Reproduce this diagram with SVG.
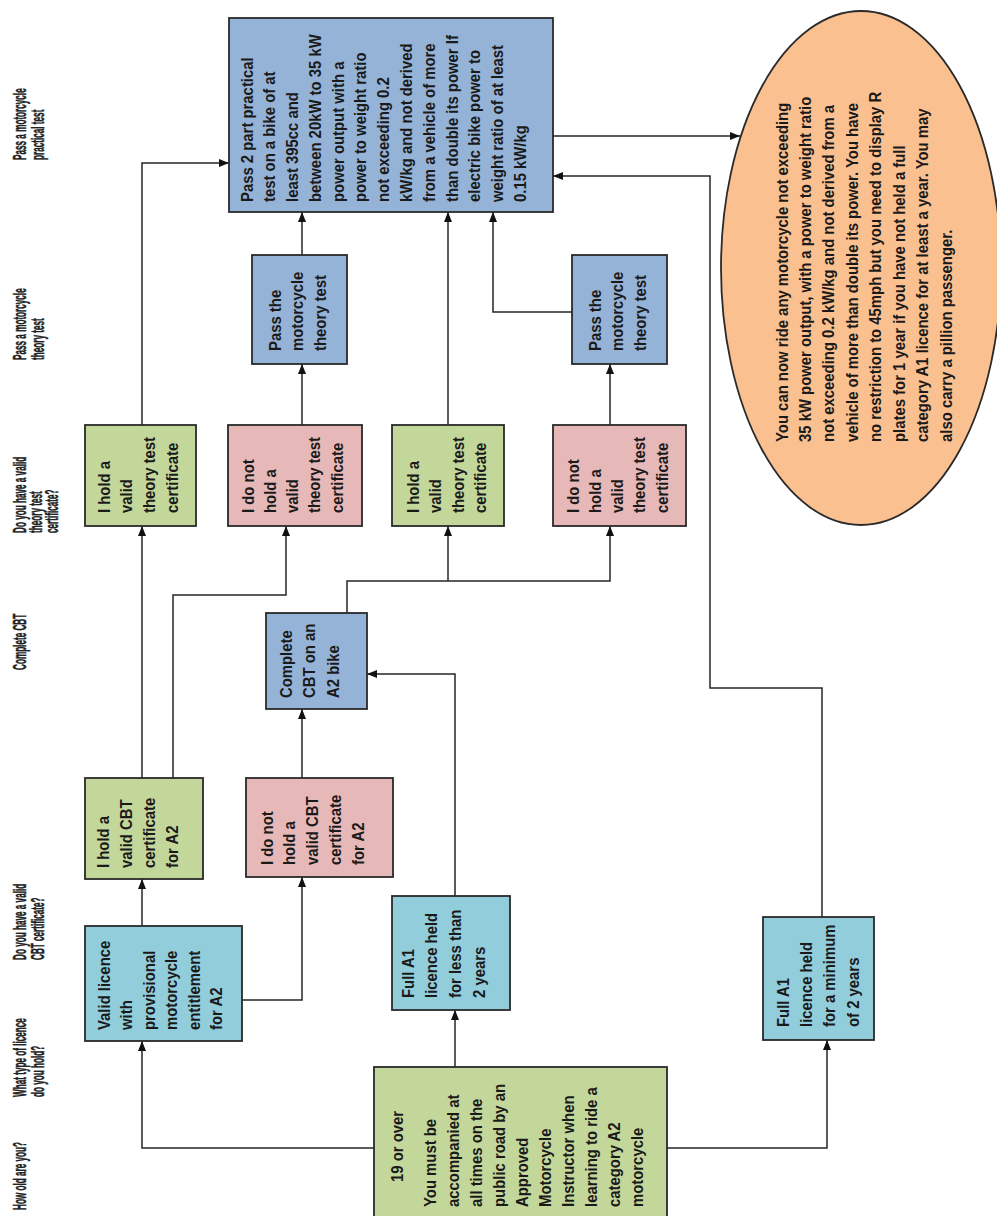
<svg xmlns="http://www.w3.org/2000/svg" width="997" height="1216" viewBox="0 0 997 1216">
  <style>
    .box { stroke: #2a2a2a; stroke-width: 1.8; }
    .green { fill: #C4D79B; }
    .pink { fill: #E6B8B7; }
    .cyan { fill: #92CDDC; }
    .blue { fill: #95B3D7; }
    .oval { fill: #FAC090; stroke: #2a2a2a; stroke-width: 1.8; }
    .t { font-family: "Liberation Sans", Arial, sans-serif; font-weight: bold; font-size: 16px; fill: #1a1a1a; }
    .hd { font-family: "Liberation Sans", Arial, sans-serif; font-weight: bold; font-size: 19px; fill: #222; stroke: #222; stroke-width: 0.5; }
    .wire { fill: none; stroke: #262626; stroke-width: 1.5; }
    .arr { marker-end: url(#head); }
  </style>
  <defs>
    <marker id="head" viewBox="0 0 10 8" refX="10" refY="4" markerWidth="10" markerHeight="8" markerUnits="userSpaceOnUse" orient="auto">
      <path d="M0,0 L10,4 L0,8 z" fill="#111"/>
    </marker>
  </defs>
  <rect width="997" height="1216" fill="#fff"/>

  <!-- column headings, written bottom-to-top -->
  <g id="headings">
    <text class="hd" transform="translate(26,1210) rotate(-90) scale(0.43,1)"><tspan x="0" y="0">How old are you?</tspan></text>
    <text class="hd" transform="translate(26,1097) rotate(-90) scale(0.43,1)"><tspan x="0" y="0">What type of licence</tspan><tspan x="0" y="18">do you hold?</tspan></text>
    <text class="hd" transform="translate(26,960) rotate(-90) scale(0.43,1)"><tspan x="0" y="0">Do you have a valid</tspan><tspan x="0" y="18">CBT certificate?</tspan></text>
    <text class="hd" transform="translate(26,670) rotate(-90) scale(0.43,1)"><tspan x="0" y="0">Complete CBT</tspan></text>
    <text class="hd" transform="translate(26,533) rotate(-90) scale(0.43,1)"><tspan x="0" y="0">Do you have a valid</tspan><tspan x="0" y="16">theory test</tspan><tspan x="0" y="32">certificate?</tspan></text>
    <text class="hd" transform="translate(26,360) rotate(-90) scale(0.43,1)"><tspan x="0" y="0">Pass a motorcycle</tspan><tspan x="0" y="18">theory test</tspan></text>
    <text class="hd" transform="translate(26,160) rotate(-90) scale(0.43,1)"><tspan x="0" y="0">Pass a motorcycle</tspan><tspan x="0" y="18">practical test</tspan></text>
  </g>

  <!-- connectors -->
  <g id="connectors">
    <path class="wire arr" d="M374,1148 H142 V1041"/>
    <path class="wire arr" d="M455,1067 V1010"/>
    <path class="wire arr" d="M667,1148 H827 V1040"/>
    <path class="wire arr" d="M142,926 V879"/>
    <path class="wire arr" d="M242,1000 H302 V877"/>
    <path class="wire arr" d="M142,778 V526"/>
    <path class="wire arr" d="M173,778 V595 H286 V526"/>
    <path class="wire arr" d="M302,778 V709"/>
    <path class="wire arr" d="M455,896 V674 H367"/>
    <path class="wire arr" d="M347,613 V581 H610 V526"/>
    <path class="wire arr" d="M448,581 V526"/>
    <path class="wire arr" d="M142,425 V163 H229"/>
    <path class="wire arr" d="M302,425 V364"/>
    <path class="wire arr" d="M302,255 V212"/>
    <path class="wire arr" d="M448,425 V212"/>
    <path class="wire arr" d="M610,425 V364"/>
    <path class="wire arr" d="M572,312 H493 V212"/>
    <path class="wire arr" d="M822,917 V688 H710 V176 H553"/>
    <path class="wire arr" d="M553,136 H740"/>
  </g>

  <!-- age -->
  <g id="age">
    <rect class="box green" x="374" y="1067" width="293" height="160"/>
    <text class="t" transform="translate(402.5,1207) rotate(-90) scale(0.93,1)">
      <tspan x="26.9" y="0">19 or over</tspan>
      <tspan x="0" y="34">You must be</tspan>
      <tspan x="0" y="56.9">accompanied at</tspan>
      <tspan x="0" y="79.8">all times on the</tspan>
      <tspan x="0" y="102.7">public road by an</tspan>
      <tspan x="0" y="125.6">Approved</tspan>
      <tspan x="0" y="148.5">Motorcycle</tspan>
      <tspan x="0" y="171.4">Instructor when</tspan>
      <tspan x="0" y="194.3">learning to ride a</tspan>
      <tspan x="0" y="217.2">category A2</tspan>
      <tspan x="0" y="240.1">motorcycle</tspan>
    </text>
  </g>

  <!-- licence types -->
  <g id="provisional">
    <rect class="box cyan" x="85" y="926" width="157" height="115"/>
    <text class="t" transform="translate(110,1030) rotate(-90) scale(0.93,1)">
      <tspan x="0" y="0">Valid licence</tspan>
      <tspan x="0" y="22.5">with</tspan>
      <tspan x="0" y="45">provisional</tspan>
      <tspan x="0" y="67.5">motorcycle</tspan>
      <tspan x="0" y="90">entitlement</tspan>
      <tspan x="0" y="112.5">for A2</tspan>
    </text>
  </g>
  <g id="a1-short">
    <rect class="box cyan" x="392" y="896" width="118" height="114"/>
    <text class="t" transform="translate(413.5,998) rotate(-90) scale(0.93,1)">
      <tspan x="0" y="0">Full A1</tspan>
      <tspan x="0" y="24">licence held</tspan>
      <tspan x="0" y="48">for less than</tspan>
      <tspan x="0" y="72">2 years</tspan>
    </text>
  </g>
  <g id="a1-long">
    <rect class="box cyan" x="763" y="917" width="111" height="123"/>
    <text class="t" transform="translate(788.5,1027) rotate(-90) scale(0.93,1)">
      <tspan x="0" y="0">Full A1</tspan>
      <tspan x="0" y="23.5">licence held</tspan>
      <tspan x="0" y="47">for a minimum</tspan>
      <tspan x="0" y="70.5">of 2 years</tspan>
    </text>
  </g>

  <!-- CBT certificate -->
  <g id="cbt-yes">
    <rect class="box green" x="85" y="778" width="118" height="101"/>
    <text class="t" transform="translate(109,868) rotate(-90) scale(0.93,1)">
      <tspan x="0" y="0">I hold a</tspan>
      <tspan x="0" y="23">valid CBT</tspan>
      <tspan x="0" y="46">certificate</tspan>
      <tspan x="0" y="69">for A2</tspan>
    </text>
  </g>
  <g id="cbt-no">
    <rect class="box pink" x="246" y="778" width="147" height="99"/>
    <text class="t" transform="translate(272.5,865) rotate(-90) scale(0.93,1)">
      <tspan x="0" y="0">I do not</tspan>
      <tspan x="0" y="23">hold a</tspan>
      <tspan x="0" y="46">valid CBT</tspan>
      <tspan x="0" y="69">certificate</tspan>
      <tspan x="0" y="92">for A2</tspan>
    </text>
  </g>

  <!-- complete CBT -->
  <g id="complete-cbt">
    <rect class="box blue" x="266" y="613" width="101" height="96"/>
    <text class="t" transform="translate(292,698) rotate(-90) scale(0.93,1)">
      <tspan x="0" y="0">Complete</tspan>
      <tspan x="0" y="23.3">CBT on an</tspan>
      <tspan x="0" y="46.6">A2 bike</tspan>
    </text>
  </g>

  <!-- theory test certificate -->
  <g id="theory-yes-1">
    <rect class="box green" x="85" y="425" width="111" height="101"/>
    <text class="t" transform="translate(109.5,513) rotate(-90) scale(0.93,1)">
      <tspan x="0" y="0">I hold a</tspan>
      <tspan x="0" y="23">valid</tspan>
      <tspan x="0" y="46">theory test</tspan>
      <tspan x="0" y="69">certificate</tspan>
    </text>
  </g>
  <g id="theory-no-1">
    <rect class="box pink" x="228" y="425" width="134" height="101"/>
    <text class="t" transform="translate(253.5,513) rotate(-90) scale(0.93,1)">
      <tspan x="0" y="0">I do not</tspan>
      <tspan x="0" y="22.3">hold a</tspan>
      <tspan x="0" y="44.6">valid</tspan>
      <tspan x="0" y="66.9">theory test</tspan>
      <tspan x="0" y="89.2">certificate</tspan>
    </text>
  </g>
  <g id="theory-yes-2">
    <rect class="box green" x="392" y="425" width="112" height="101"/>
    <text class="t" transform="translate(418.5,513) rotate(-90) scale(0.93,1)">
      <tspan x="0" y="0">I hold a</tspan>
      <tspan x="0" y="23">valid</tspan>
      <tspan x="0" y="46">theory test</tspan>
      <tspan x="0" y="68">certificate</tspan>
    </text>
  </g>
  <g id="theory-no-2">
    <rect class="box pink" x="553" y="425" width="133" height="101"/>
    <text class="t" transform="translate(578.5,513) rotate(-90) scale(0.93,1)">
      <tspan x="0" y="0">I do not</tspan>
      <tspan x="0" y="22.3">hold a</tspan>
      <tspan x="0" y="44.6">valid</tspan>
      <tspan x="0" y="66.9">theory test</tspan>
      <tspan x="0" y="89.2">certificate</tspan>
    </text>
  </g>

  <!-- theory test -->
  <g id="theory-test-1">
    <rect class="box blue" x="252" y="255" width="95" height="109"/>
    <text class="t" transform="translate(280.5,351) rotate(-90) scale(0.93,1)">
      <tspan x="0" y="0">Pass the</tspan>
      <tspan x="0" y="23">motorcycle</tspan>
      <tspan x="0" y="46">theory test</tspan>
    </text>
  </g>
  <g id="theory-test-2">
    <rect class="box blue" x="572" y="255" width="95" height="109"/>
    <text class="t" transform="translate(600.5,351) rotate(-90) scale(0.93,1)">
      <tspan x="0" y="0">Pass the</tspan>
      <tspan x="0" y="23">motorcycle</tspan>
      <tspan x="0" y="46">theory test</tspan>
    </text>
  </g>

  <!-- practical test -->
  <g id="practical">
    <rect class="box blue" x="229" y="18" width="324" height="194"/>
    <text class="t" transform="translate(252.5,202) rotate(-90) scale(0.93,1)">
      <tspan x="0" y="0">Pass 2 part practical</tspan>
      <tspan x="0" y="22.8">test on a bike of at</tspan>
      <tspan x="0" y="45.6">least 395cc and</tspan>
      <tspan x="0" y="68.4">between 20kW to 35 kW</tspan>
      <tspan x="0" y="91.2">power output with a</tspan>
      <tspan x="0" y="114">power to weight ratio</tspan>
      <tspan x="0" y="136.8">not exceeding 0.2</tspan>
      <tspan x="0" y="159.6">kW/kg and not derived</tspan>
      <tspan x="0" y="182.4">from a vehicle of more</tspan>
      <tspan x="0" y="205.2">than double its power If</tspan>
      <tspan x="0" y="228">electric bike power to</tspan>
      <tspan x="0" y="250.8">weight ratio of at least</tspan>
      <tspan x="0" y="273.6">0.15 kW/kg</tspan>
    </text>
  </g>

  <!-- outcome -->
  <g id="outcome">
    <ellipse class="oval" cx="861" cy="268" rx="140" ry="257"/>
    <text class="t" transform="translate(787.5,442) rotate(-90) scale(0.93,1)">
      <tspan x="0" y="0">You can now ride any motorcycle not exceeding</tspan>
      <tspan x="0" y="23.5">35 kW power output, with a power to weight ratio</tspan>
      <tspan x="0" y="47">not exceeding 0.2 kW/kg and not derived from a</tspan>
      <tspan x="0" y="70.5">vehicle of more than double its power. You have</tspan>
      <tspan x="0" y="94">no restriction to 45mph but you need to display R</tspan>
      <tspan x="0" y="117.5">plates for 1 year if you have not held a full</tspan>
      <tspan x="0" y="141">category A1 licence for at least a year.  You may</tspan>
      <tspan x="0" y="164.5">also carry a pillion passenger.</tspan>
    </text>
  </g>
</svg>
